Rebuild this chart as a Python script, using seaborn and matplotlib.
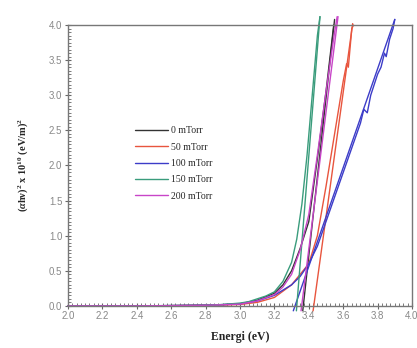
import matplotlib
matplotlib.use("Agg")
import matplotlib.pyplot as plt
import seaborn as sns
import pandas as pd
from matplotlib.ticker import MultipleLocator

sns.set_theme(style="white")
plt.rcParams['font.family'] = ['Liberation Sans', 'DejaVu Sans']
plt.rcParams['mathtext.fontset'] = 'custom'
plt.rcParams['mathtext.rm'] = 'Liberation Serif:bold'
plt.rcParams['mathtext.it'] = 'Liberation Serif:italic:bold'
plt.rcParams['mathtext.bf'] = 'Liberation Serif:bold'

labels = ["0 mTorr", "50 mTorr", "100 mTorr", "150 mTorr", "200 mTorr"]
colors = ["#333333", "#e8553e", "#3c3cc8", "#3a9c7c", "#c845c8"]

# measured data (energy eV, (alpha h nu)^2 x 1e10)
e0 = [2.0, 2.2, 2.4, 2.6, 2.8, 2.9, 3.0, 3.1, 3.2, 3.25, 3.3, 3.35, 3.4, 3.45, 3.5, 3.545]
v0 = [0.0, 0.0, 0.0, 0.004, 0.01, 0.018, 0.03, 0.08, 0.18, 0.3, 0.5, 0.82, 1.2, 2.1, 3.05, 4.0]

e50 = [2.0, 2.2, 2.4, 2.6, 2.8, 2.9, 3.0, 3.1, 3.2, 3.3, 3.4, 3.45, 3.5, 3.55, 3.6, 3.62, 3.63, 3.65, 3.66]
v50 = [0.0, 0.0, 0.0, 0.003, 0.008, 0.013, 0.02, 0.05, 0.12, 0.3, 0.6, 1.0, 1.7, 2.45, 3.2, 3.45, 3.4, 3.95, 4.0]

e100 = [2.0, 2.2, 2.4, 2.6, 2.8, 2.9, 3.0, 3.1, 3.2, 3.3, 3.35, 3.4, 3.45, 3.5, 3.55, 3.6, 3.65,
        3.7, 3.72, 3.74, 3.76, 3.78, 3.8, 3.82, 3.84, 3.85, 3.87, 3.89, 3.9]
v100 = [0.0, 0.0, 0.0, 0.004, 0.01, 0.018, 0.03, 0.07, 0.15, 0.3, 0.42, 0.6, 0.85, 1.2, 1.55, 1.9, 2.25,
        2.6, 2.8, 2.75, 3.0, 3.15, 3.3, 3.4, 3.6, 3.55, 3.8, 3.95, 4.08]

e150 = [2.0, 2.2, 2.4, 2.6, 2.8, 2.9, 3.0, 3.05, 3.1, 3.15, 3.2, 3.25, 3.3, 3.33, 3.36, 3.39, 3.42, 3.45, 3.465]
v150 = [0.0, 0.0, 0.0, 0.005, 0.01, 0.02, 0.04, 0.06, 0.1, 0.14, 0.2, 0.35, 0.62, 0.95, 1.45, 2.15, 3.0, 3.85, 4.12]

e200 = [2.0, 2.2, 2.4, 2.6, 2.8, 2.9, 3.0, 3.1, 3.2, 3.25, 3.3, 3.35, 3.4, 3.45, 3.5, 3.55, 3.565]
v200 = [0.0, 0.0, 0.0, 0.004, 0.009, 0.016, 0.025, 0.07, 0.16, 0.27, 0.45, 0.8, 1.3, 2.15, 3.05, 3.9, 4.12]

# linear Tauc extrapolation lines (end points)
fit0_e, fit0_v = [3.365, 3.55], [-0.07, 4.08]
fit50_e, fit50_v = [3.425, 3.655], [-0.07, 4.02]
fit100_e, fit100_v = [3.31, 3.90], [-0.07, 4.08]
fit150_e, fit150_v = [3.328, 3.465], [-0.07, 4.12]
fit200_e, fit200_v = [3.355, 3.57], [-0.07, 4.12]

data_e = [e0, e50, e100, e150, e200]
data_v = [v0, v50, v100, v150, v200]
fit_e = [fit0_e, fit50_e, fit100_e, fit150_e, fit200_e]
fit_v = [fit0_v, fit50_v, fit100_v, fit150_v, fit200_v]

fig = plt.figure(figsize=(4.17, 3.48), dpi=100)
ax = fig.add_axes([0.163, 0.121, 0.825, 0.807])

for lab, col, xe, yv, fe, fv in zip(labels, colors, data_e, data_v, fit_e, fit_v):
    df = pd.DataFrame({"E": xe, "V": yv})
    sns.lineplot(data=df, x="E", y="V", color=col, lw=1.0, sort=False, ax=ax, label=lab)
    dff = pd.DataFrame({"E": fe, "V": fv})
    sns.lineplot(data=dff, x="E", y="V", color=col, lw=1.0, sort=False, ax=ax, legend=False)

for line in ax.get_lines():
    line.set_clip_on(False)

ax.set_xlim(2.0, 4.0)
ax.set_ylim(0.0, 4.0)
ax.xaxis.set_major_locator(MultipleLocator(0.2))
ax.xaxis.set_minor_locator(MultipleLocator(0.025))
ax.yaxis.set_major_locator(MultipleLocator(0.5))
ax.yaxis.set_minor_locator(MultipleLocator(0.05))
ax.tick_params(which='major', direction='inout', length=4, width=0.8, color='#666666',
               labelsize=7, labelcolor='#888888', pad=2, bottom=True, left=True)
ax.tick_params(which='minor', direction='in', length=2, width=0.6, color='#666666', bottom=True, left=True)
ax.xaxis.set_major_formatter(matplotlib.ticker.FormatStrFormatter('%.1f'))
ax.yaxis.set_major_formatter(matplotlib.ticker.FormatStrFormatter('%.1f'))
for sp in ax.spines.values():
    sp.set_color('#777777')
    sp.set_linewidth(1.0)

ax.set_xlabel("Energi (eV)", fontsize=8.5, fontweight='bold', family='Liberation Serif', labelpad=7)
ax.set_ylabel(r"($\alpha$hν)$^2$ x 10$^{10}$ (eV/m)$^2$", fontsize=7.5, fontweight='bold',
              family='Liberation Serif', labelpad=14)

leg = ax.legend(loc='upper left', bbox_to_anchor=(0.17, 0.67), frameon=False,
                prop={'family': 'Liberation Serif', 'size': 7}, handlelength=3.4,
                labelspacing=0.75, handletextpad=0.3)

fig.savefig("out.png", dpi=100)
